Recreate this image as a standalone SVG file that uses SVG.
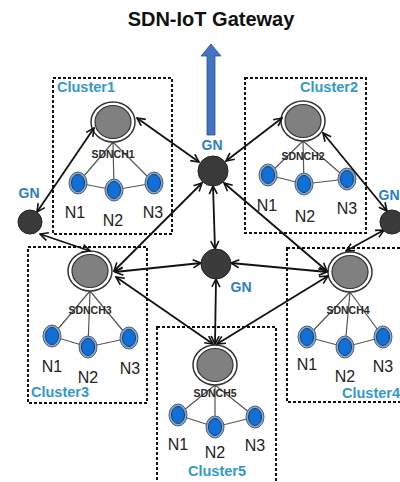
<svg xmlns="http://www.w3.org/2000/svg" width="400" height="482" viewBox="0 0 400 482">
<style>
.title{font-family:"Liberation Sans",Arial,sans-serif;font-weight:bold;font-size:20px;fill:#111;text-anchor:middle}
.cl{font-family:"Liberation Sans",Arial,sans-serif;font-weight:bold;font-size:14.5px;fill:#3399cc}
.gnl{font-family:"Liberation Sans",Arial,sans-serif;font-weight:bold;font-size:14px;fill:#2b80bf;text-anchor:middle}
.nl{font-family:"Liberation Sans",Arial,sans-serif;font-size:16px;fill:#222;text-anchor:middle}
.chl{font-family:"Liberation Sans",Arial,sans-serif;font-weight:bold;font-size:10.5px;fill:#2a2a2a;text-anchor:middle}
.box{fill:none;stroke:#111;stroke-width:2;stroke-dasharray:3 2}
.conn{stroke:#111;stroke-width:1.8;fill:none;marker-start:url(#ah);marker-end:url(#ah)}
.in{stroke:#555;stroke-width:1.2;fill:none}
.gn{fill:#3a3a3a;stroke:#222;stroke-width:1}
.cho{fill:#fff;stroke:#333;stroke-width:1.5}
.chi{fill:#808080;stroke:#333;stroke-width:1.2}
.no{fill:#8aa4c4;stroke:#4a6080;stroke-width:1}
.ni{fill:#1170d8;stroke:#1a3e70;stroke-width:1}
</style>
<defs>
<marker id="ah" viewBox="0 0 10 10" refX="9" refY="5" markerWidth="10" markerHeight="10" markerUnits="userSpaceOnUse" orient="auto-start-reverse">
<path d="M1,1 L9,5 L1,9" fill="none" stroke="#111" stroke-width="1.6"/>
</marker>
<g id="bn"><ellipse class="no" rx="9" ry="11"/><ellipse class="ni" rx="6.5" ry="8.5"/></g>
<g id="ch"><ellipse class="cho" rx="22" ry="20"/><ellipse class="chi" rx="18" ry="16.5"/></g>
</defs>

<text class="title" x="211" y="26">SDN-IoT Gateway</text>
<g id="gateway-arrow">
<path d="M207,135 L207,56 L201,56 L211,44 L221,56 L215,56 L215,135 Z" fill="#4472c4" stroke="#2f528f" stroke-width="0.8"/>
</g>

<g id="cluster1">
<rect class="box" x="53" y="78" width="119" height="156"/>
<text class="cl" x="57" y="92">Cluster1</text>
<path class="in" d="M113,142 L78,183 M113,142 L114,190 M113,142 L154,183 M78,183 L114,190 L154,183"/>
<use href="#ch" x="113" y="122"/>
<text class="chl" x="113" y="158">SDNCH1</text>
<use href="#bn" x="78" y="183"/><use href="#bn" x="114" y="190"/><use href="#bn" x="154" y="183"/>
<text class="nl" x="75" y="218">N1</text><text class="nl" x="113" y="226">N2</text><text class="nl" x="153" y="218">N3</text>
</g>

<g id="cluster2">
<rect class="box" x="245" y="78" width="121" height="155"/>
<text class="cl" x="358" y="92" text-anchor="end">Cluster2</text>
<path class="in" d="M303,141 L268,175 M303,141 L304,184 M303,141 L347,179 M268,175 L304,184 L347,179"/>
<use href="#ch" x="303" y="121"/>
<text class="chl" x="303" y="160">SDNCH2</text>
<use href="#bn" x="268" y="175"/><use href="#bn" x="304" y="184"/><use href="#bn" x="347" y="179"/>
<text class="nl" x="267" y="211">N1</text><text class="nl" x="305" y="222">N2</text><text class="nl" x="347" y="214">N3</text>
</g>

<g id="cluster3">
<rect class="box" x="28" y="247" width="119" height="156"/>
<text class="cl" x="31" y="397">Cluster3</text>
<path class="in" d="M90,291 L52,336 M90,291 L88,347 M90,291 L129,338 M52,336 L88,347 L129,338"/>
<use href="#ch" x="90" y="271"/>
<text class="chl" x="90" y="314">SDNCH3</text>
<use href="#bn" x="52" y="336"/><use href="#bn" x="88" y="347"/><use href="#bn" x="129" y="338"/>
<text class="nl" x="52" y="372">N1</text><text class="nl" x="88" y="383">N2</text><text class="nl" x="130" y="374">N3</text>
</g>

<g id="cluster4">
<rect class="box" x="287" y="248" width="125" height="154"/>
<text class="cl" x="342" y="398">Cluster4</text>
<path class="in" d="M350,292 L307,337 M350,292 L345,347 M350,292 L383,337 M307,337 L345,347 L383,337"/>
<use href="#ch" x="350" y="272"/>
<text class="chl" x="348" y="314">SDNCH4</text>
<use href="#bn" x="307" y="337"/><use href="#bn" x="345" y="347"/><use href="#bn" x="383" y="337"/>
<text class="nl" x="307" y="370">N1</text><text class="nl" x="345" y="382">N2</text><text class="nl" x="383" y="372">N3</text>
</g>

<g id="cluster5">
<rect class="box" x="157" y="327" width="119" height="170"/>
<text class="cl" x="217" y="476" text-anchor="middle">Cluster5</text>
<path class="in" d="M215,385 L178,415 M215,385 L215,427 M215,385 L255,417 M178,415 L215,427 L255,417"/>
<use href="#ch" x="215" y="365"/>
<text class="chl" x="215" y="397">SDNCH5</text>
<use href="#bn" x="178" y="415"/><use href="#bn" x="215" y="427"/><use href="#bn" x="255" y="417"/>
<text class="nl" x="178" y="450">N1</text><text class="nl" x="215" y="458">N2</text><text class="nl" x="255" y="451">N3</text>
</g>

<g id="connectors">
<line class="conn" x1="199" y1="162" x2="137" y2="118"/>
<line class="conn" x1="226" y1="161" x2="282" y2="118"/>
<line class="conn" x1="213" y1="186" x2="215" y2="249"/>
<line class="conn" x1="224" y1="183" x2="327" y2="271"/>
<line class="conn" x1="202" y1="183" x2="114" y2="271"/>
<line class="conn" x1="37" y1="212" x2="94" y2="128"/>
<line class="conn" x1="40" y1="234" x2="90" y2="251"/>
<line class="conn" x1="387" y1="211" x2="323" y2="133"/>
<line class="conn" x1="384" y1="230" x2="346" y2="251"/>
<line class="conn" x1="201" y1="263" x2="115" y2="272"/>
<line class="conn" x1="231" y1="263" x2="327" y2="272"/>
<line class="conn" x1="216" y1="279" x2="215" y2="344"/>
<line class="conn" x1="116" y1="277" x2="213" y2="344"/>
<line class="conn" x1="328" y1="276" x2="217" y2="344"/>
</g>

<g id="gn-top"><circle class="gn" cx="213" cy="171" r="15"/><text class="gnl" x="212" y="150">GN</text></g>
<g id="gn-left"><circle class="gn" cx="30" cy="222" r="12"/><text class="gnl" x="29" y="198">GN</text></g>
<g id="gn-right"><circle class="gn" cx="392" cy="222" r="12"/><text class="gnl" x="389" y="200">GN</text></g>
<g id="gn-center"><circle class="gn" cx="216" cy="264" r="15"/><text class="gnl" x="241" y="292">GN</text></g>
</svg>
